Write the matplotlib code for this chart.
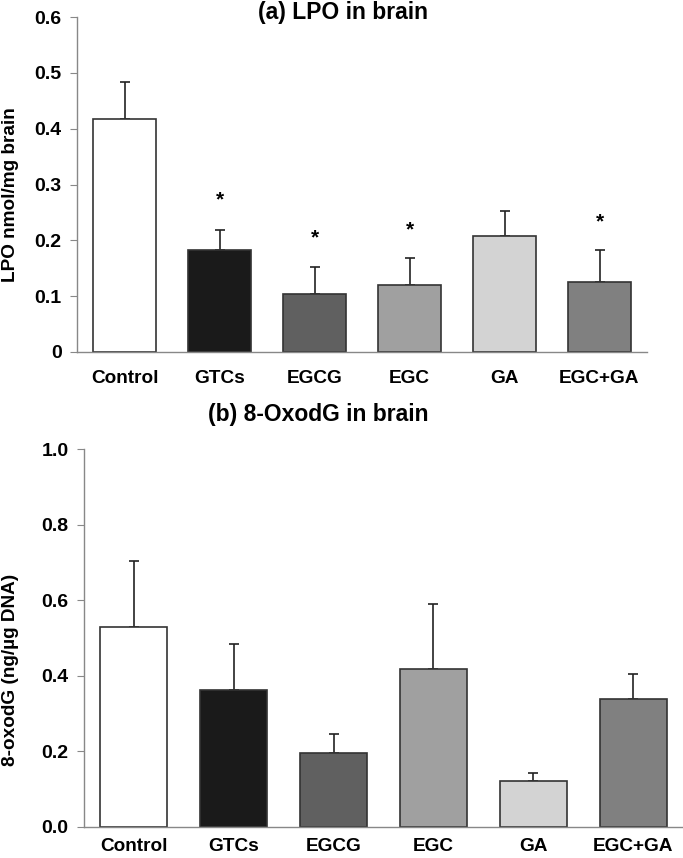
#!/usr/bin/env python3
# -*- coding: utf-8 -*-
"""LPO e 8-OxodG nel cervello: due pannelli a barre con errore."""
import matplotlib
matplotlib.use("Agg")
import matplotlib.pyplot as plt
from matplotlib.ticker import FormatStrFormatter

plt.rcParams["font.family"] = ["Liberation Sans", "DejaVu Sans"]
plt.rcParams["font.weight"] = "bold"

# --- Dati ---
groups = ["Control", "GTCs", "EGCG", "EGC", "GA", "EGC+GA"]
bar_colors = ["#ffffff", "#1a1a1a", "#606060", "#a0a0a0", "#d3d3d3", "#808080"]

# (a) LPO
lpo_mean = [0.417, 0.183, 0.103, 0.120, 0.208, 0.125]
lpo_err = [0.067, 0.036, 0.050, 0.048, 0.045, 0.058]
lpo_star = [None, 0.272, 0.204, 0.219, None, 0.233]

# (b) 8-OxodG
oxo_mean = [0.530, 0.361, 0.194, 0.417, 0.122, 0.338]
oxo_err = [0.174, 0.122, 0.051, 0.173, 0.019, 0.067]

W, H = 683, 858
fig = plt.figure(figsize=(W / 100, H / 100), dpi=100)


def panel(rect, means, errs, ylim, yticks, fmt, width, xpad):
    ax = fig.add_axes(rect)
    x = range(len(groups))
    ax.bar(x, means, width=width, color=bar_colors, edgecolor="#333333", linewidth=1.2, zorder=2)
    ax.errorbar(x, means, yerr=[[0] * len(errs), errs], fmt="none", ecolor="#222222",
                elinewidth=1.2, capsize=3.5, capthick=1.2, zorder=1)
    ax.set_xlim(-0.5, len(groups) - 0.5)
    ax.set_ylim(*ylim)
    ax.set_yticks(yticks)
    ax.yaxis.set_major_formatter(FormatStrFormatter(fmt))
    ax.set_xticks(list(x))
    ax.set_xticklabels(groups, fontsize=13.7, fontweight="bold")
    ax.tick_params(axis="x", length=0, pad=xpad)
    ax.tick_params(axis="y", length=5, color="#888888", labelsize=14, pad=6)
    for s in ("top", "right"):
        ax.spines[s].set_visible(False)
    for s in ("left", "bottom"):
        ax.spines[s].set_color("#888888")
        ax.spines[s].set_linewidth(1.0)
    return ax


# Pannello (a)
ax1 = panel([77 / W, 1 - 352 / H, 570 / W, 335 / H], lpo_mean, lpo_err,
            (0, 0.6), [0, 0.1, 0.2, 0.3, 0.4, 0.5, 0.6], "%g", 0.66, 13)
for i, s in enumerate(lpo_star):
    if s is not None:
        ax1.text(i, s, "*", ha="center", va="center", fontsize=15, fontweight="bold")
fig.text(343 / W, 1 - 12 / H, "(a) LPO in brain", ha="center", va="center",
         fontsize=16.5, fontweight="bold")
fig.text(11 / W, 1 - 195 / H, "LPO nmol/mg brain", rotation=90, ha="center", va="center",
         fontsize=13.7, fontweight="bold")

# Pannello (b)
ax2 = panel([84 / W, 1 - 826.7 / H, 599 / W, 377.4 / H], oxo_mean, oxo_err,
            (0, 1.0), [0, 0.2, 0.4, 0.6, 0.8, 1.0], "%.1f", 0.67, 8)
fig.text(318 / W, 1 - 415 / H, "(b) 8-OxodG in brain", ha="center", va="center",
         fontsize=16.5, fontweight="bold")
fig.text(11 / W, 1 - 670 / H, "8-oxodG (ng/µg DNA)", rotation=90, ha="center", va="center",
         fontsize=13.7, fontweight="bold")

fig.savefig("out.png", dpi=100)
